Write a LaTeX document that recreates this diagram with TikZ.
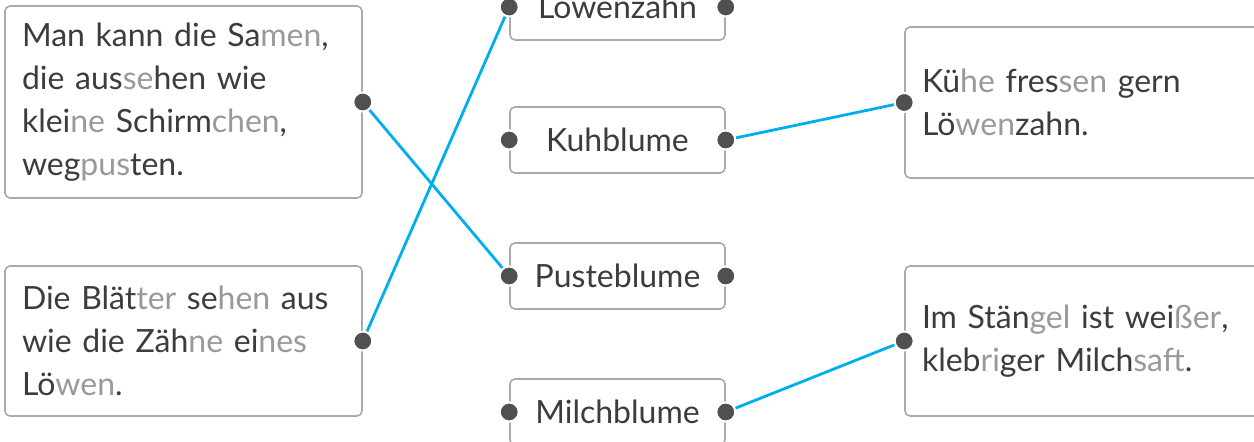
\documentclass[tikz,border=0pt]{standalone}
\usepackage{fontspec}
\setmainfont{Lato}
\usepackage{xcolor}
\usetikzlibrary{positioning}

\definecolor{textgray}{HTML}{3C3C3C}
\definecolor{sylgray}{HTML}{999999}
\definecolor{boxgray}{HTML}{AAAAAA}
\definecolor{linkblue}{HTML}{00AEEF}
\definecolor{dotgray}{HTML}{505050}
\newcommand{\syl}[1]{\textcolor{sylgray}{#1}}

\begin{document}
\begin{tikzpicture}[x=1pt, y=-1pt, font=\fontsize{32}{43}\selectfont, text=textgray]
    \tikzstyle{card} = [draw=boxgray, line width=1.6pt, rounded corners=5pt, inner sep=0pt, align=left]
    \tikzstyle{word} = [card, minimum width=215pt, minimum height=66pt, align=center]
    \tikzstyle{link} = [draw=linkblue, line width=2.8pt]
    \tikzstyle{dot} = [fill=dotgray, draw=white, line width=2pt]
    \useasboundingbox (0,0) rectangle (1254,442);
    \clip (0,0) rectangle (1254,442);
    % sentences on the left
    \node [card, minimum width=357pt, minimum height=192pt, text width=323pt] at (183.5,102) (samen)
        {Man kann die Sa\syl{men},\\die aus\syl{se}hen wie\\klei\syl{ne} Schirm\syl{chen},\\weg\syl{pus}ten.};
    \node [card, minimum width=357pt, minimum height=150pt, text width=323pt] at (183.5,341) (blaetter)
        {Die Blät\syl{ter} se\syl{hen} aus\\wie die Zäh\syl{ne} ei\syl{nes}\\Lö\syl{wen}.};
    % flower names
    \node [word] at (617.5,7) (loewenzahn) {Löwenzahn};
    \node [word] at (617.5,140) (kuhblume) {Kuhblume};
    \node [word] at (617.5,276) (pusteblume) {Pusteblume};
    \node [word] at (617.5,412) (milchblume) {Milchblume};
    % sentences on the right
    \node [card, minimum width=370pt, minimum height=151pt, text width=336pt] at (1090,102.5) (kuehe)
        {Kü\syl{he} fres\syl{sen} gern\\Lö\syl{wen}zahn.};
    \node [card, minimum width=370pt, minimum height=150pt, text width=336pt] at (1090,341) (staengel)
        {Im Stän\syl{gel} ist wei\syl{ßer},\\kleb\syl{ri}ger Milch\syl{saft}.};
    % links
    \draw [link] (samen.east) -- (pusteblume.west);
    \draw [link] (blaetter.east) -- (loewenzahn.west);
    \draw [link] (kuhblume.east) -- (kuehe.west);
    \draw [link] (milchblume.east) -- (staengel.west);
    % dots
    \foreach \n in {samen, blaetter}
        \filldraw [dot] (\n.east) circle (9.5pt);
    \foreach \n in {kuehe, staengel}
        \filldraw [dot] (\n.west) circle (9.5pt);
    \foreach \n in {loewenzahn, kuhblume, pusteblume, milchblume} {
        \filldraw [dot] (\n.west) circle (9.5pt);
        \filldraw [dot] (\n.east) circle (9.5pt);
    }
\end{tikzpicture}
\end{document}
